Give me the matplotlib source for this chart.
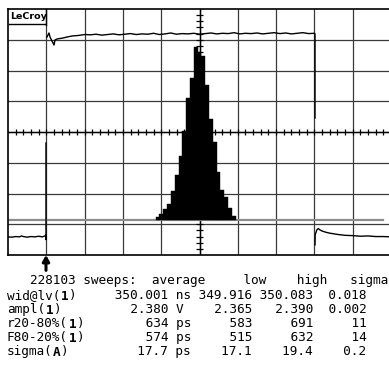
import matplotlib
matplotlib.use("Agg")
import matplotlib.pyplot as plt
import numpy as np
from matplotlib.lines import Line2D

hist_counts = [2.5, 5.5, 10.5, 15.5, 29, 45, 63.5, 88.5, 122, 142, 173,
               168, 164, 135, 101, 78, 48, 30, 23, 12, 3.5]
hist_left = 3.855      # divisions
hist_bin = 0.0995      # divisions

# channel 1 trace (time div, volt div)
top_x = [1.018, 1.044, 1.070, 1.097, 1.149, 1.201, 1.227, 1.279, 1.358, 1.436,
         1.540, 1.671, 1.828, 2.01, 2.15, 2.3, 2.45, 2.6, 2.75, 2.9, 3.05, 3.2,
         3.35, 3.5, 3.65, 3.8, 3.95, 4.1, 4.25, 4.4, 4.55, 4.7, 4.85, 5.0, 5.15,
         5.3, 5.45, 5.6, 5.75, 5.9, 6.05, 6.2, 6.35, 6.5, 6.65, 6.8, 6.95, 7.1,
         7.25, 7.4, 7.55, 7.7, 7.85, 8.0, 8.016, 8.016]
top_y = [3.089, 3.154, 3.220, 3.089, 2.959, 2.829, 2.992, 3.024, 3.041, 3.057,
         3.089, 3.122, 3.138, 3.171, 3.16, 3.18, 3.15, 3.17, 3.19, 3.16, 3.18,
         3.20, 3.17, 3.19, 3.18, 3.21, 3.17, 3.19, 3.22, 3.18, 3.20, 3.19, 3.21,
         3.18, 3.20, 3.22, 3.19, 3.21, 3.20, 3.23, 3.19, 3.21, 3.20, 3.22, 3.19,
         3.21, 3.23, 3.20, 3.22, 3.19, 3.21, 3.23, 3.20, 3.21, 3.19, 0.455]

low_left_x = [0.0, 0.1, 0.2, 0.3, 0.35, 0.4, 0.5, 0.6, 0.7, 0.8, 0.9, 0.96, 0.99, 0.992, 0.992]
low_left_y = [-3.41, -3.42, -3.40, -3.41, -3.38, -3.40, -3.42, -3.40, -3.41, -3.39,
              -3.41, -3.38, -3.36, -3.50, -0.358]

low_right_x = [8.016, 8.02, 8.06, 8.10, 8.14, 8.2, 8.3, 8.4, 8.5, 8.6, 8.8, 9.0,
               9.2, 9.4, 9.6, 9.8, 10.0]
low_right_y = [-3.67, -3.35, -3.19, -3.14, -3.18, -3.22, -3.26, -3.29, -3.31, -3.33,
               -3.36, -3.37, -3.39, -3.38, -3.40, -3.40, -3.41]

hist_base = -2.86
trigger_x = 0.992

header = "   228103 sweeps:  average     low    high   sigma"
rows = [
    "wid@lv( )     350.001 ns 349.916 350.083  0.018",
    "ampl( )         2.380 V    2.365   2.390  0.002",
    "r20-80%( )        634 ps     583     691     11",
    "F80-20%( )        574 ps     515     632     14",
    "sigma( )         17.7 ps    17.1    19.4    0.2",
]
icons = ["1", "1", "1", "1", "A"]
icon_cols = [7, 5, 8, 8, 6]

W, H = 389, 370
fig = plt.figure(figsize=(W / 100, H / 100), dpi=100)
fig.patch.set_facecolor("white")

ax = fig.add_axes([8 / W, 1 - 255 / H, 383 / W, 246 / H])
ax.set_xlim(0, 10)
ax.set_ylim(-4, 4)
ax.set_xticks([])
ax.set_yticks([])
for s in ax.spines.values():
    s.set_color("black")
    s.set_linewidth(1.2)

grid_col = "#3a3a3a"
for i in range(1, 10):
    ax.axvline(i, color=grid_col, lw=0.9, zorder=1)
for j in range(-3, 4):
    ax.axhline(j, color=grid_col, lw=0.9, zorder=1)
ax.axhline(0, color="black", lw=1.0, zorder=1)
ax.axvline(5, color="black", lw=1.0, zorder=1)

# graticule ticks on the centre lines
tx = np.arange(0.2, 10, 0.2)
ax.vlines(tx, -0.1, 0.1, color="black", lw=0.9, zorder=1)
ty = np.arange(-3.8, 4, 0.2)
ax.hlines(ty, 4.91, 5.09, color="black", lw=0.9, zorder=1)

# histogram baseline
ax.plot([0, 9.78], [hist_base, hist_base], color="#8c8c8c", lw=1.6, zorder=2)

# histogram
hax = ax.twinx()
hax.set_ylim(-35, 211)
hax.set_axis_off()
edges = hist_left + hist_bin * np.arange(len(hist_counts))
hax.bar(edges, hist_counts, width=hist_bin, align="edge", color="black",
        edgecolor="black", linewidth=0.3, zorder=3)

# traces
ax.plot(top_x, top_y, color="black", lw=1.0, zorder=4)
ax.plot(low_left_x, low_left_y, color="black", lw=1.0, zorder=4)
ax.plot(low_right_x, low_right_y, color="black", lw=1.0, zorder=4)

# trigger arrow
ax.annotate("", xy=(trigger_x, -4.0), xytext=(trigger_x, -4.5),
            arrowprops=dict(arrowstyle="-|>,head_width=0.2,head_length=0.35",
                            lw=2.2, color="black", shrinkA=0, shrinkB=0),
            annotation_clip=False)

# LeCroy logo
fig.text(10 / W, 1 - 16.5 / H, "LeCroy", fontsize=6.8, fontweight="bold",
         family="DejaVu Sans", va="center", ha="left")
fig.add_artist(Line2D([9 / W, 45 / W], [1 - 23.5 / H] * 2, color="black", lw=1.0))
fig.add_artist(Line2D([46 / W, 46 / W], [1 - 9 / H, 1 - 25 / H], color="black", lw=1.0))

# measurement table
fs = 9.2
cw = 0.6021 * fs * 100 / 72   # char width in px
x0 = 7
row_y = [280.5, 296, 310, 324, 338, 352]
fig.text(x0 / W, 1 - row_y[0] / H, header, fontsize=fs, family="DejaVu Sans Mono",
         va="center", ha="left")
for k, line in enumerate(rows):
    yy = 1 - row_y[k + 1] / H
    c = icon_cols[k]
    fig.text(x0 / W, yy, line[:c], fontsize=fs, family="DejaVu Sans Mono",
             va="center", ha="left")
    fig.text((x0 + c * cw) / W, yy, icons[k], fontsize=fs,
             family="DejaVu Sans Mono", fontweight="bold", va="center", ha="left")
    fig.text((x0 + (c + 1) * cw + 0.5) / W, yy, line[c + 1:], fontsize=fs,
             family="DejaVu Sans Mono", va="center", ha="left")

fig.savefig("out.png", dpi=100)
